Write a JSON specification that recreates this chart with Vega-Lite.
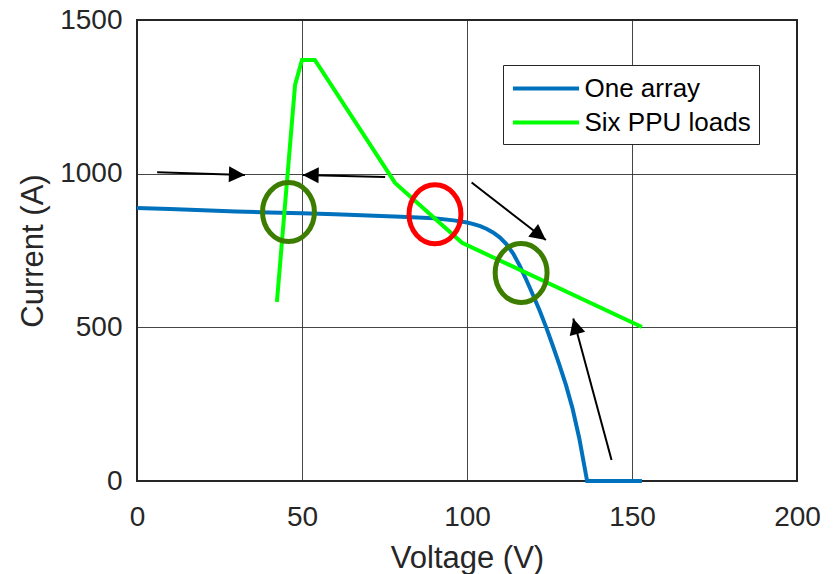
{
  "$schema": "https://vega.github.io/schema/vega-lite/v6.json",
  "width": 660,
  "height": 461,
  "autosize": {"type": "none"},
  "padding": {"left": 137, "top": 20, "right": 38, "bottom": 93},
  "background": "white",
  "title": {"text": "Voltage (V)", "fontSize": 31, "fontWeight": "normal", "color": "#262626", "font": "Liberation Sans", "baseline": "alphabetic", "offset": 21, "dx": -8},
  "config": {
    "font": "Liberation Sans",
    "view": {"stroke": "#262626", "strokeWidth": 2},
    "axis": {
      "domain": false,
      "ticks": false,
      "grid": true,
      "gridColor": "#262626",
      "gridOpacity": 0.85,
      "gridWidth": 1,
      "labelFlush": false,
      "labelFont": "Liberation Sans",
      "labelFontSize": 28,
      "labelColor": "#262626",
      "titleFont": "Liberation Sans",
      "titleFontSize": 31,
      "titleFontWeight": "normal",
      "titleColor": "#262626"
    },
    "legend": {
      "orient": "none",
      "legendX": 366,
      "legendY": 45,
      "fillColor": "white",
      "strokeColor": "#262626",
      "strokeWidth": 1,
      "padding": 8,
      "symbolType": "M-2.5,0L2.5,0",
      "symbolSize": 700,
      "symbolStrokeWidth": 4,
      "symbolOffset": 19.5,
      "labelOffset": 23,
      "labelLimit": 400,
      "labelFont": "Liberation Sans",
      "labelFontSize": 26,
      "labelColor": "#000000",
      "rowPadding": 5,
      "title": null
    }
  },
  "datasets": {
    "curves": [
      {"series": "One array", "k": 1, "v": 0, "i": 888},
      {"series": "One array", "k": 2, "v": 10, "i": 885},
      {"series": "One array", "k": 3, "v": 20, "i": 881},
      {"series": "One array", "k": 4, "v": 30, "i": 877},
      {"series": "One array", "k": 5, "v": 40, "i": 874},
      {"series": "One array", "k": 6, "v": 50, "i": 871},
      {"series": "One array", "k": 7, "v": 60, "i": 868},
      {"series": "One array", "k": 8, "v": 70, "i": 864},
      {"series": "One array", "k": 9, "v": 80, "i": 860},
      {"series": "One array", "k": 10, "v": 90, "i": 855},
      {"series": "One array", "k": 11, "v": 96, "i": 848},
      {"series": "One array", "k": 12, "v": 100, "i": 841},
      {"series": "One array", "k": 13, "v": 102, "i": 836},
      {"series": "One array", "k": 14, "v": 104, "i": 829},
      {"series": "One array", "k": 15, "v": 106, "i": 820},
      {"series": "One array", "k": 16, "v": 108, "i": 808},
      {"series": "One array", "k": 17, "v": 110, "i": 792},
      {"series": "One array", "k": 18, "v": 112, "i": 770},
      {"series": "One array", "k": 19, "v": 114, "i": 740},
      {"series": "One array", "k": 20, "v": 116, "i": 700},
      {"series": "One array", "k": 21, "v": 118, "i": 654},
      {"series": "One array", "k": 22, "v": 120, "i": 605},
      {"series": "One array", "k": 23, "v": 122, "i": 555},
      {"series": "One array", "k": 24, "v": 124, "i": 500},
      {"series": "One array", "k": 25, "v": 126, "i": 440},
      {"series": "One array", "k": 26, "v": 128, "i": 378},
      {"series": "One array", "k": 27, "v": 130, "i": 312},
      {"series": "One array", "k": 28, "v": 132, "i": 235},
      {"series": "One array", "k": 29, "v": 134, "i": 140},
      {"series": "One array", "k": 30, "v": 136.4, "i": 0},
      {"series": "One array", "k": 31, "v": 153, "i": 0},
      {"series": "Six PPU loads", "k": 1, "v": 42.4, "i": 583},
      {"series": "Six PPU loads", "k": 2, "v": 47.9, "i": 1289},
      {"series": "Six PPU loads", "k": 3, "v": 50, "i": 1370},
      {"series": "Six PPU loads", "k": 4, "v": 53.9, "i": 1370},
      {"series": "Six PPU loads", "k": 5, "v": 78.2, "i": 970},
      {"series": "Six PPU loads", "k": 6, "v": 98.5, "i": 775},
      {"series": "Six PPU loads", "k": 7, "v": 153, "i": 501}
    ],
    "circles": [
      {"kind": "stable", "v": 45.9, "i": 875},
      {"kind": "unstable", "v": 90.3, "i": 868},
      {"kind": "stable", "v": 116.4, "i": 677}
    ],
    "arrows": [
      {"id": 1, "v1": 6.1, "i1": 1005, "v2": 32.7, "i2": 996},
      {"id": 2, "v1": 75.2, "i1": 989, "v2": 50.2, "i2": 996},
      {"id": 3, "v1": 101.4, "i1": 971, "v2": 123.9, "i2": 784},
      {"id": 4, "v1": 143.8, "i1": 68, "v2": 132.2, "i2": 529}
    ]
  },
  "layer": [
    {
      "data": {"name": "curves"},
      "mark": {"type": "line", "strokeWidth": 4},
      "encoding": {
        "x": {"field": "v", "type": "quantitative", "title": "Voltage (V)", "scale": {"domain": [0, 200], "nice": false},
              "axis": {"values": [0, 50, 100, 150, 200], "format": "d", "labelPadding": 22, "titleBaseline": "alphabetic", "titleY": 86}},
        "y": {"field": "i", "type": "quantitative", "title": "Current (A)", "scale": {"domain": [0, 1500], "nice": false},
              "axis": {"values": [0, 500, 1000, 1500], "format": "d", "labelPadding": 15, "titleBaseline": "alphabetic", "titleX": -95, "titleY": 230.5}},
        "color": {"field": "series", "type": "nominal", "scale": {"domain": ["One array", "Six PPU loads"], "range": ["#0072BD", "#00FF00"]}},
        "order": {"field": "k", "type": "quantitative"}
      }
    },
    {
      "data": {"name": "circles"},
      "transform": [{"filter": "datum.kind == 'stable'"}],
      "mark": {"type": "point", "shape": "M-0.88,0A0.88,1 0 1,1 0.88,0A0.88,1 0 1,1 -0.88,0Z", "size": 3481, "filled": false, "stroke": "#3C7D00", "strokeWidth": 5, "opacity": 1},
      "encoding": {
        "x": {"field": "v", "type": "quantitative", "title": "Voltage (V)", "scale": {"domain": [0, 200], "nice": false}},
        "y": {"field": "i", "type": "quantitative", "title": "Current (A)", "scale": {"domain": [0, 1500], "nice": false}}
      }
    },
    {
      "data": {"name": "circles"},
      "transform": [{"filter": "datum.kind == 'unstable'"}],
      "mark": {"type": "point", "shape": "M-0.88,0A0.88,1 0 1,1 0.88,0A0.88,1 0 1,1 -0.88,0Z", "size": 3481, "filled": false, "stroke": "#FF0000", "strokeWidth": 5, "opacity": 1},
      "encoding": {
        "x": {"field": "v", "type": "quantitative", "title": "Voltage (V)", "scale": {"domain": [0, 200], "nice": false}},
        "y": {"field": "i", "type": "quantitative", "title": "Current (A)", "scale": {"domain": [0, 1500], "nice": false}}
      }
    },
    {
      "data": {"name": "arrows"},
      "mark": {"type": "rule", "color": "#000000", "strokeWidth": 2},
      "encoding": {
        "x": {"field": "v1", "type": "quantitative", "title": "Voltage (V)", "scale": {"domain": [0, 200], "nice": false}},
        "y": {"field": "i1", "type": "quantitative", "title": "Current (A)", "scale": {"domain": [0, 1500], "nice": false}},
        "x2": {"field": "v2"},
        "y2": {"field": "i2"}
      }
    },
    {
      "data": {"name": "arrows"},
      "transform": [{"filter": "datum.id == 1"}],
      "mark": {"type": "point", "shape": "M0,0L-0.5,1L0.5,1Z", "size": 1024, "filled": true, "color": "#000000", "strokeWidth": 0, "opacity": 1, "angle": 91.9},
      "encoding": {
        "x": {"field": "v2", "type": "quantitative", "title": "Voltage (V)", "scale": {"domain": [0, 200], "nice": false}},
        "y": {"field": "i2", "type": "quantitative", "title": "Current (A)", "scale": {"domain": [0, 1500], "nice": false}}
      }
    },
    {
      "data": {"name": "arrows"},
      "transform": [{"filter": "datum.id == 2"}],
      "mark": {"type": "point", "shape": "M0,0L-0.5,1L0.5,1Z", "size": 1024, "filled": true, "color": "#000000", "strokeWidth": 0, "opacity": 1, "angle": 271.4},
      "encoding": {
        "x": {"field": "v2", "type": "quantitative", "title": "Voltage (V)", "scale": {"domain": [0, 200], "nice": false}},
        "y": {"field": "i2", "type": "quantitative", "title": "Current (A)", "scale": {"domain": [0, 1500], "nice": false}}
      }
    },
    {
      "data": {"name": "arrows"},
      "transform": [{"filter": "datum.id == 3"}],
      "mark": {"type": "point", "shape": "M0,0L-0.5,1L0.5,1Z", "size": 1024, "filled": true, "color": "#000000", "strokeWidth": 0, "opacity": 1, "angle": 127.6},
      "encoding": {
        "x": {"field": "v2", "type": "quantitative", "title": "Voltage (V)", "scale": {"domain": [0, 200], "nice": false}},
        "y": {"field": "i2", "type": "quantitative", "title": "Current (A)", "scale": {"domain": [0, 1500], "nice": false}}
      }
    },
    {
      "data": {"name": "arrows"},
      "transform": [{"filter": "datum.id == 4"}],
      "mark": {"type": "point", "shape": "M0,0L-0.5,1L0.5,1Z", "size": 1024, "filled": true, "color": "#000000", "strokeWidth": 0, "opacity": 1, "angle": 344.8},
      "encoding": {
        "x": {"field": "v2", "type": "quantitative", "title": "Voltage (V)", "scale": {"domain": [0, 200], "nice": false}},
        "y": {"field": "i2", "type": "quantitative", "title": "Current (A)", "scale": {"domain": [0, 1500], "nice": false}}
      }
    }
  ]
}
